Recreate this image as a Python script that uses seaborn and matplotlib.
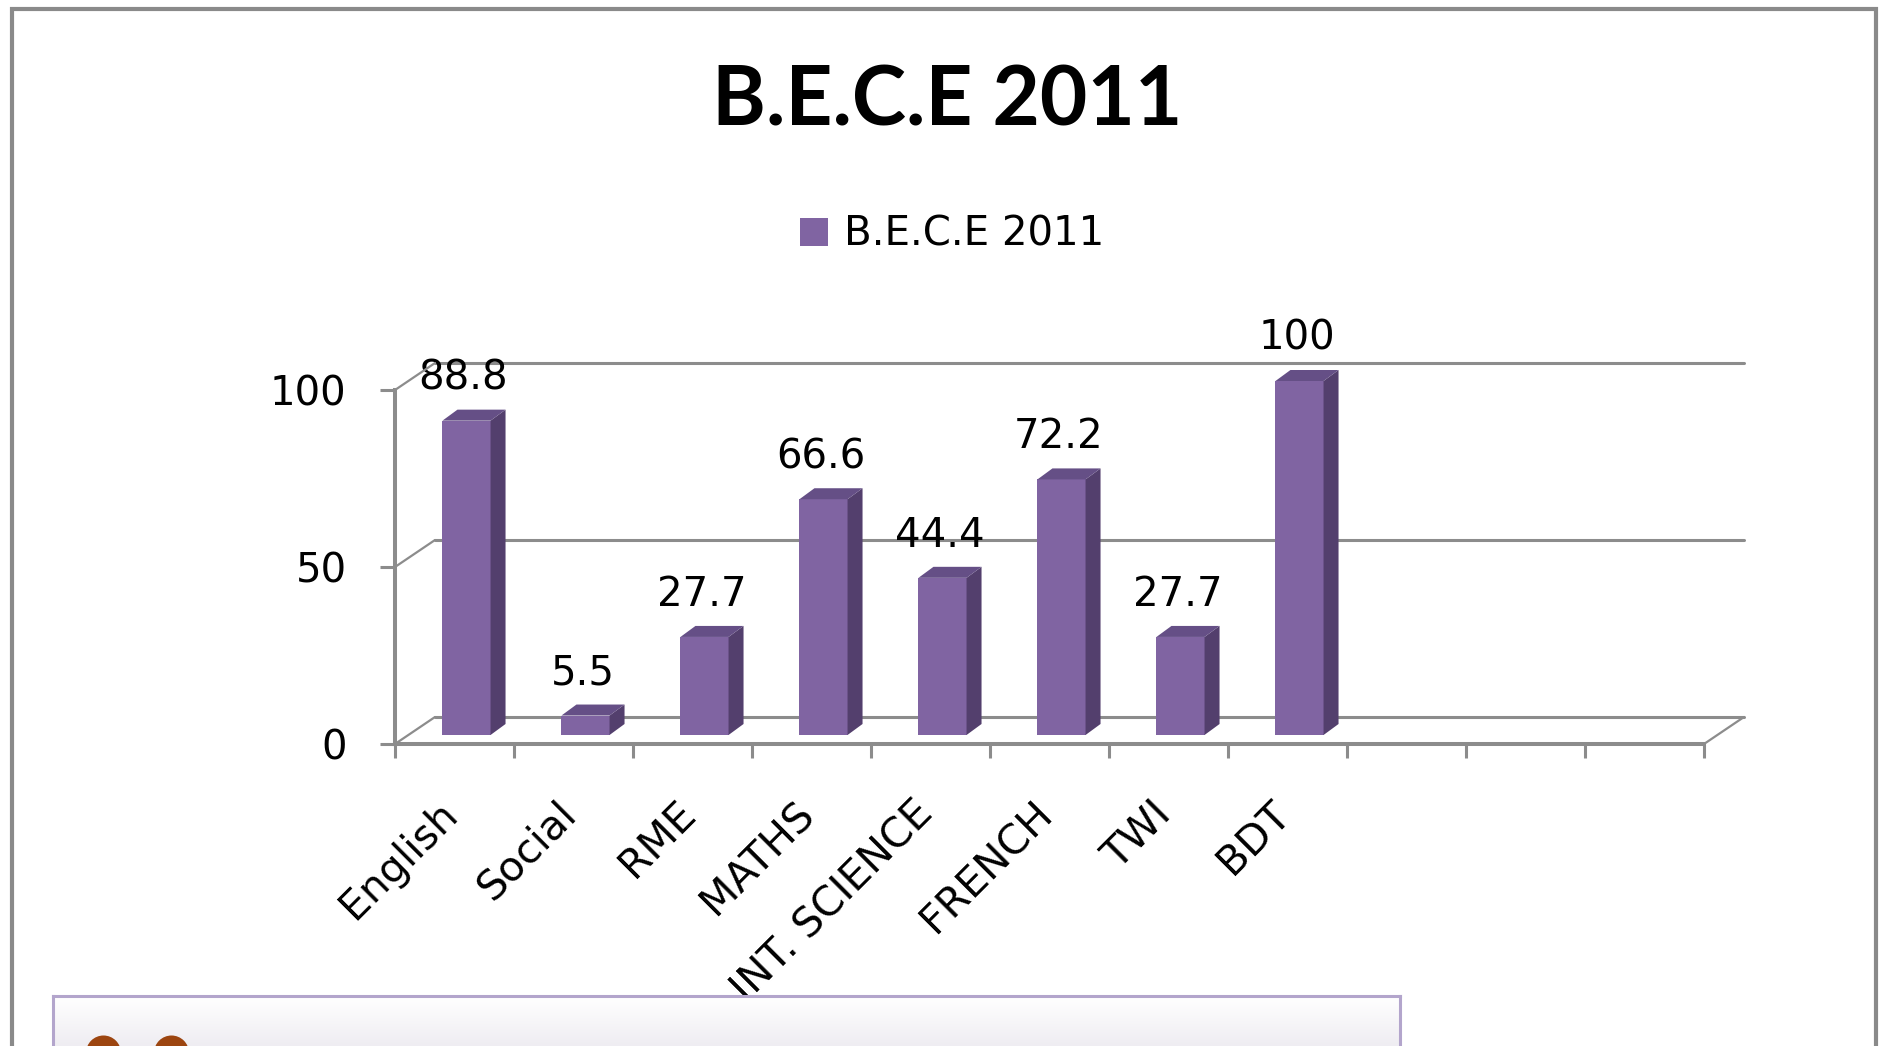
import matplotlib
matplotlib.use("Agg")
import matplotlib.pyplot as plt
import matplotlib.transforms as mtransforms
from matplotlib.patches import Polygon, Rectangle, Circle, Patch, ConnectionPatch
import numpy as np
import pandas as pd
import seaborn as sns

# data
subjects = ["English", "Social", "RME", "MATHS", "INT. SCIENCE", "FRENCH", "TWI", "BDT"]
scores = [88.8, 5.5, 27.7, 66.6, 44.4, 72.2, 27.7, 100]
y_ticks = [0, 50, 100]
n_slots = 11  # category axis has 3 empty slots after BDT
series_name = "B.E.C.E 2011"

FRONT = "#8064a2"
SIDE = "#533f6d"
TOP = "#654f86"
GRID = "#8c8c8c"

W, H, DPI = 1888, 1046, 100

sns.set_theme(style="white")
plt.rcParams["font.family"] = ["DejaVu Sans"]
plt.rcParams["text.color"] = "black"

fig = plt.figure(figsize=(W / DPI, H / DPI), dpi=DPI)
fig.patch.set_facecolor("white")

# front plane of the 3d-looking chart
ax_l, ax_r, ax_b, ax_t = 395, 1704, 744, 390
ax = fig.add_axes([ax_l / W, 1 - ax_b / H, (ax_r - ax_l) / W, (ax_b - ax_t) / H])
ax.patch.set_alpha(0)

df = pd.DataFrame({"subject": subjects, "score": scores})
sns.barplot(data=df, x="subject", y="score", color=FRONT, saturation=1,
            width=0.404, ax=ax, zorder=3)

ax.set_xlim(-0.5, n_slots - 0.5)
ax.set_ylim(0, 100)
ax.set_xlabel("")
ax.set_ylabel("")

px_x = (ax_r - ax_l) / n_slots
px_y = (ax_b - ax_t) / 100.0


def shift(dx, dy):
    return mtransforms.ScaledTranslation(dx / DPI, dy / DPI, fig.dpi_scale_trans)


trans_back = ax.transData + shift(40, 27)
trans_bar = ax.transData + shift(12, 9)

# back wall gridlines + left depth lines
for v in y_ticks:
    ax.plot([-0.5, n_slots - 0.5], [v, v], transform=trans_back, color=GRID,
            lw=2.2, zorder=1, clip_on=False)
    con = ConnectionPatch(xyA=(-0.5, v), coordsA=ax.transData,
                          xyB=(-0.5, v), coordsB=trans_back,
                          color=GRID, lw=1.6, zorder=1)
    fig.add_artist(con)
con = ConnectionPatch(xyA=(n_slots - 0.5, 0), coordsA=ax.transData,
                      xyB=(n_slots - 0.5, 0), coordsB=trans_back,
                      color=GRID, lw=1.6, zorder=1)
fig.add_artist(con)

# give the bars depth
ddx = 15 / px_x
ddy = 11 / px_y
for p, val in zip(ax.patches, scores):
    p.set_transform(trans_bar)
    p.set_linewidth(0)
    p.set_clip_on(False)
    x0 = p.get_x()
    x1 = x0 + p.get_width()
    h = p.get_height()
    side = Polygon([(x1, 0), (x1 + ddx, ddy), (x1 + ddx, h + ddy), (x1, h)],
                   closed=True, facecolor=SIDE, edgecolor="none",
                   transform=trans_bar, zorder=3, clip_on=False)
    top = Polygon([(x0, h), (x0 + ddx, h + ddy), (x1 + ddx, h + ddy), (x1, h)],
                  closed=True, facecolor=TOP, edgecolor="none",
                  transform=trans_bar, zorder=3, clip_on=False)
    ax.add_patch(side)
    ax.add_patch(top)
    ax.annotate(f"{val:g}", xy=((x0 + x1) / 2, h), xycoords=trans_bar,
                xytext=(-3, 31), textcoords="offset pixels",
                ha="center", va="baseline", fontsize=29, color="black",
                zorder=5, annotation_clip=False)

# axes, ticks
for s in ["top", "right"]:
    ax.spines[s].set_visible(False)
for s in ["left", "bottom"]:
    ax.spines[s].set_color(GRID)
    ax.spines[s].set_linewidth(2.9)
    ax.spines[s].set_zorder(4)

ax.set_yticks(y_ticks)
ax.set_yticklabels([str(v) for v in y_ticks])
ax.tick_params(axis="y", left=True, length=15 * 0.72, width=2.2, color=GRID,
               pad=24, labelsize=29, labelcolor="black")
ax.set_xticks(np.arange(-0.5, n_slots, 1.0))
ax.set_xticklabels([])
ax.tick_params(axis="x", bottom=True, length=14 * 0.72, width=2.2, color=GRID,
               labelbottom=False)

lab_trans = mtransforms.blended_transform_factory(ax.transData, ax.transAxes) + shift(-3, -64)
for i, s in enumerate(subjects):
    ax.text(i, 0, s, transform=lab_trans, rotation=45, ha="right", va="center",
            rotation_mode="anchor", fontsize=29.5, color="black")

# title and legend
fig.text(947 / W, 1 - 125 / H, series_name, ha="center", va="baseline",
         fontsize=59, fontweight="bold", color="black",
         family=["Lato", "DejaVu Sans"])
leg = fig.legend(handles=[Patch(facecolor=FRONT, edgecolor="none", label=series_name)],
                 loc="center", bbox_to_anchor=(952 / W, 1 - 235 / H), frameon=False,
                 fontsize=29, handlelength=0.7, handleheight=0.7, handletextpad=0.4)
for t in leg.get_texts():
    t.set_color("black")

# outer chart frame
fig.add_artist(Rectangle((12 / W, -0.05), (1876 - 12) / W, 1.05 - 9 / H,
                         transform=fig.transFigure, fill=False,
                         edgecolor="#8a8a8a", lw=3))

# box peeking in at the bottom
box_l, box_r, box_t = 53, 1400, 996
bx = fig.add_axes([box_l / W, 0, (box_r - box_l) / W, (H - box_t) / H])
grad = np.linspace(0, 1, 64).reshape(-1, 1)
bx.imshow(grad, extent=(box_l, box_r, H, box_t), aspect="auto",
          cmap=matplotlib.colors.LinearSegmentedColormap.from_list("g", ["#ffffff", "#efedf2"]))
bx.set_xlim(box_l, box_r)
bx.set_ylim(H, box_t)
bx.set_xticks([])
bx.set_yticks([])
for s in ["top", "left", "right"]:
    bx.spines[s].set_color("#b3a5cc")
    bx.spines[s].set_linewidth(2.2)
bx.spines["bottom"].set_visible(False)
for cx in [103.5, 171.5]:
    bx.add_patch(Circle((cx, 1053), 17.5, facecolor="#9c4510", edgecolor="none"))

fig.savefig("out.png", dpi=DPI)
